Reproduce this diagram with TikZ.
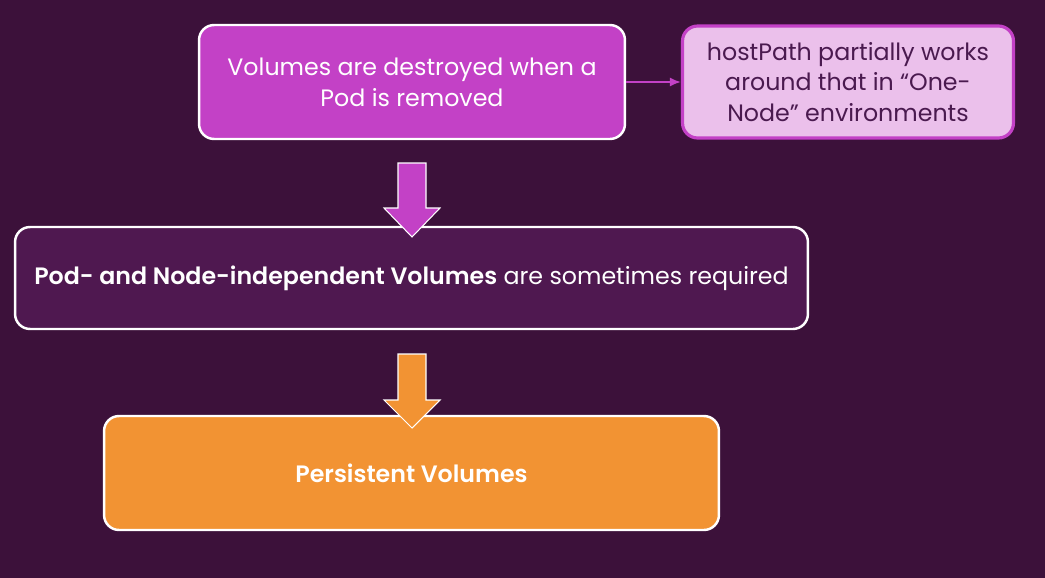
\documentclass[tikz,border=0pt]{standalone}
\usepackage{fontspec}
\setmainfont{Poppins}[BoldFont={Poppins SemiBold}]
\usepackage{tikz}
\usetikzlibrary{arrows.meta}

\definecolor{bgpurple}{HTML}{3C113A}
\definecolor{magentabox}{HTML}{C341C6}
\definecolor{pinkbox}{HTML}{EBC0EB}
\definecolor{darktext}{HTML}{4A1A4F}
\definecolor{plumbox}{HTML}{4F1850}
\definecolor{orangebox}{HTML}{F29333}

\begin{document}
\begin{tikzpicture}[x=0.02cm, y=-0.02cm,
	every node/.style={font=\fontsize{13.5}{17.5}\selectfont, align=center},
	box/.style={rounded corners=0.3cm, draw=white, line width=1.4pt, inner sep=0pt},
	blockarr/.style={draw=white, line width=0.6pt, line join=miter},
	>={Latex[length=2.2mm, width=1.8mm]}]
	\fill[bgpurple] (0,0) rectangle (1045,578);
	\useasboundingbox (0,0) rectangle (1045,578);
	\node[box, fill=magentabox, text=white, minimum width=8.52cm, minimum height=2.28cm] (destroyed) at (412,82)
		{\rule{0pt}{2pt}Volumes are destroyed when a\\Pod is removed};
	\node[box, draw=magentabox, line width=1.8pt, fill=pinkbox, text=darktext, minimum width=6.62cm, minimum height=2.24cm] (hostpath) at (848,82)
		{hostPath partially works\\around that in \char"201C One-\\Node\char"201D{} environments};
	\draw[->, magentabox, line width=1.1pt] (destroyed.east) -- (hostpath.west);
	\node[box, fill=plumbox, text=white, minimum width=15.86cm, minimum height=2.04cm] (independent) at (411.5,278)
		{\textbf{Pod- and Node-independent Volumes} are sometimes required};
	\node[box, fill=orangebox, text=white, minimum width=12.3cm, minimum height=2.28cm] (persistent) at (411.5,473)
		{\textbf{Persistent Volumes}};
	\draw[blockarr, fill=magentabox] (398,163) -- (426,163) -- (426,208) -- (440,208) -- (412,237) -- (384,208) -- (398,208) -- cycle;
	\draw[blockarr, fill=orangebox] (398,354) -- (426,354) -- (426,400) -- (440,400) -- (412,428) -- (384,400) -- (398,400) -- cycle;
\end{tikzpicture}
\end{document}
